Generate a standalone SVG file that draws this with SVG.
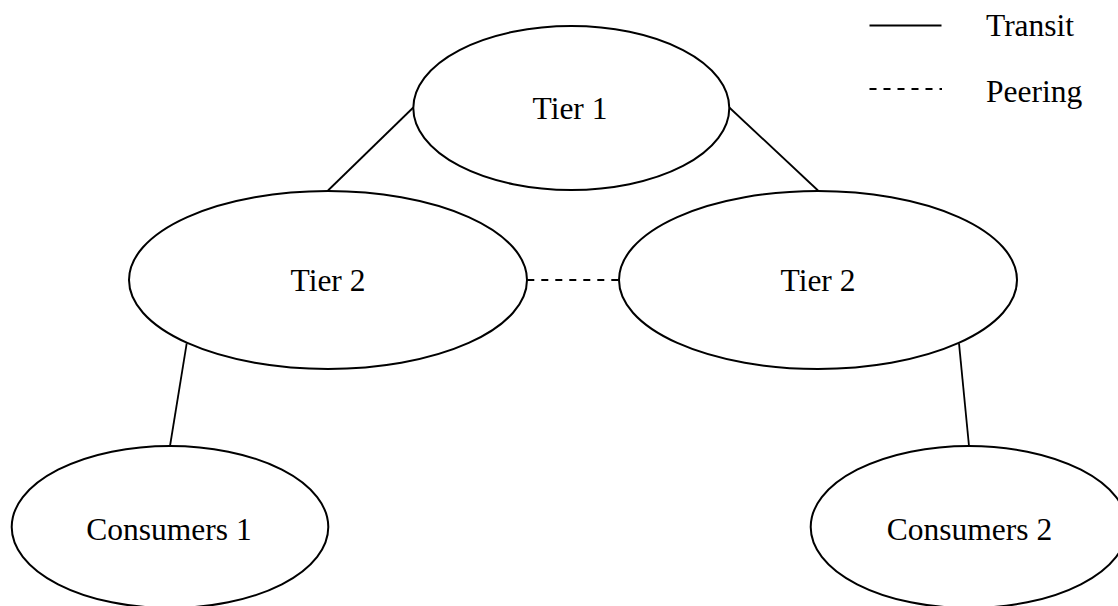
<svg xmlns="http://www.w3.org/2000/svg" width="1118" height="606" viewBox="0 0 1118 606">
<style>
.node ellipse{fill:#fff;stroke:#000;stroke-width:2}
text{font-family:"Liberation Serif","Times New Roman",serif;font-size:31.5px;fill:#000}
.lbl{text-anchor:middle}
.edge{stroke:#000;stroke-width:1.8;fill:none}
.peer{stroke-dasharray:7,7}
</style>
<rect width="1118" height="606" fill="#fff"/>
<g id="connectors">
<line class="edge" x1="413.3" y1="107.5" x2="328" y2="190.5"/>
<line class="edge" x1="729.3" y1="107.5" x2="818" y2="190.5"/>
<line class="edge peer" x1="527.3" y1="280" x2="619" y2="280"/>
<line class="edge" x1="186.7" y1="343.3" x2="170" y2="446"/>
<line class="edge" x1="959" y1="343.3" x2="969" y2="446"/>
</g>
<g id="tier1" class="node">
<ellipse cx="571.3" cy="108" rx="158" ry="82"/>
<text class="lbl" x="570" y="119">Tier 1</text>
</g>
<g id="tier2-left" class="node">
<ellipse cx="328" cy="280" rx="199" ry="89"/>
<text class="lbl" x="328" y="291">Tier 2</text>
</g>
<g id="tier2-right" class="node">
<ellipse cx="818" cy="280" rx="199" ry="89"/>
<text class="lbl" x="818" y="291">Tier 2</text>
</g>
<g id="consumers1" class="node">
<ellipse cx="170" cy="527" rx="158.3" ry="81"/>
<text class="lbl" x="169" y="540">Consumers 1</text>
</g>
<g id="consumers2" class="node">
<ellipse cx="969" cy="527" rx="158.3" ry="81"/>
<text class="lbl" x="969.5" y="540">Consumers 2</text>
</g>
<g id="legend">
<line class="edge" x1="869.5" y1="25.5" x2="941.5" y2="25.5"/>
<text x="986" y="36">Transit</text>
<line class="edge peer" x1="869.5" y1="89" x2="942" y2="89"/>
<text x="986" y="101.5">Peering</text>
</g>
</svg>
